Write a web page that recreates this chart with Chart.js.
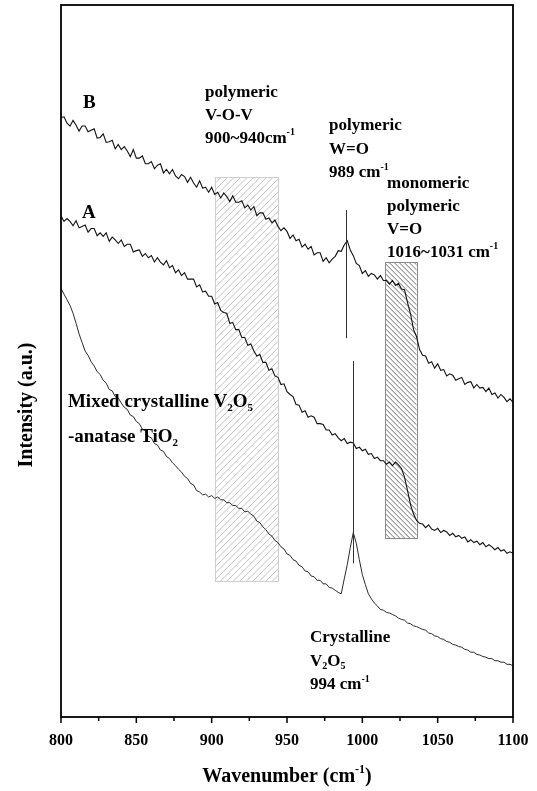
<!DOCTYPE html>
<html>
<head>
<meta charset="utf-8">
<title>Raman spectra</title>
<script src="https://cdn.jsdelivr.net/npm/chart.js@4.4.1/dist/chart.umd.min.js"></script>
<style>
  html, body { margin: 0; padding: 0; background: #fff; }
  canvas { display: block; }
</style>
</head>
<body>
<canvas id="ramanChart" width="537" height="791"></canvas>
<script>
// Raman shift grid (cm-1)
const wavenumbers = [
  800, 802, 804, 806, 808, 810, 812, 814, 816, 818,
  820, 822, 824, 826, 828, 830, 832, 834, 836, 838,
  840, 842, 844, 846, 848, 850, 852, 854, 856, 858,
  860, 862, 864, 866, 868, 870, 872, 874, 876, 878,
  880, 882, 884, 886, 888, 890, 892, 894, 896, 898,
  900, 902, 904, 906, 908, 910, 912, 914, 916, 918,
  920, 922, 924, 926, 928, 930, 932, 934, 936, 938,
  940, 942, 944, 946, 948, 950, 952, 954, 956, 958,
  960, 962, 964, 966, 968, 970, 972, 974, 976, 978,
  980, 982, 984, 986, 988, 990, 992, 994, 996, 998,
  1000, 1002, 1004, 1006, 1008, 1010, 1012, 1014, 1016, 1018,
  1020, 1022, 1024, 1026, 1028, 1030, 1032, 1034, 1036, 1038,
  1040, 1042, 1044, 1046, 1048, 1050, 1052, 1054, 1056, 1058,
  1060, 1062, 1064, 1066, 1068, 1070, 1072, 1074, 1076, 1078,
  1080, 1082, 1084, 1086, 1088, 1090, 1092, 1094, 1096, 1098,
  1100
];

// sample B (top trace)
const spectrumB = [
  84.2, 84.3, 83.4, 83.0, 83.8, 83.1, 82.3, 83.0, 83.0, 82.2,
  82.4, 82.6, 81.3, 81.4, 81.9, 80.7, 80.8, 81.0, 79.8, 80.4,
  79.7, 80.1, 79.5, 78.7, 79.7, 78.5, 78.5, 78.8, 77.7, 77.7,
  78.0, 77.0, 77.5, 77.7, 76.4, 76.9, 76.3, 76.9, 76.0, 75.6,
  76.2, 75.9, 75.1, 75.8, 75.0, 74.4, 75.3, 74.3, 74.4, 73.7,
  74.4, 73.4, 73.7, 72.9, 73.6, 73.1, 72.4, 73.2, 72.3, 72.3,
  72.5, 71.5, 71.9, 71.2, 71.7, 70.4, 70.8, 70.8, 69.9, 70.1,
  69.4, 69.8, 68.9, 68.3, 68.7, 68.2, 67.2, 67.7, 66.9, 67.1,
  66.0, 66.4, 65.7, 66.1, 64.9, 65.2, 65.2, 64.0, 64.5, 63.8,
  64.3, 64.7, 65.5, 65.4, 66.3, 66.9, 65.6, 64.8, 63.7, 63.4,
  62.3, 62.7, 61.9, 62.3, 62.1, 61.5, 62.0, 61.3, 61.3, 60.8,
  61.3, 60.6, 60.9, 60.1, 60.0, 58.2, 56.6, 54.4, 53.4, 51.6,
  50.8, 50.7, 49.7, 49.9, 49.0, 49.6, 48.7, 48.8, 47.9, 48.2,
  48.0, 47.3, 47.5, 47.7, 46.7, 47.0, 47.1, 46.2, 46.7, 46.2,
  46.3, 45.7, 46.2, 45.3, 45.5, 44.8, 45.3, 44.9, 44.3, 44.7,
  44.2
];

// sample A (middle trace)
const spectrumA = [
  70.4, 69.6, 70.0, 69.6, 69.0, 69.7, 68.7, 68.9, 69.1, 68.1,
  68.6, 68.6, 67.6, 68.0, 67.5, 68.0, 66.8, 67.4, 67.0, 66.5,
  67.0, 66.1, 66.4, 66.4, 65.3, 65.5, 65.6, 64.7, 65.1, 64.5,
  64.8, 63.9, 64.5, 63.9, 63.5, 64.1, 63.1, 63.4, 62.4, 62.8,
  62.0, 62.4, 61.5, 61.5, 61.5, 60.4, 60.7, 59.7, 59.8, 59.1,
  59.1, 58.0, 58.2, 57.1, 56.8, 56.7, 55.3, 55.4, 54.4, 54.4,
  53.3, 53.3, 52.2, 52.4, 51.4, 50.7, 50.9, 49.8, 49.8, 48.7,
  48.9, 47.9, 47.7, 46.7, 46.8, 45.7, 45.3, 45.0, 43.9, 43.8,
  42.8, 43.0, 42.1, 42.3, 42.1, 41.2, 41.2, 41.1, 40.3, 40.3,
  39.6, 39.8, 39.2, 38.8, 39.1, 38.4, 38.6, 38.5, 37.7, 37.9,
  37.4, 37.6, 36.9, 37.0, 36.3, 36.5, 36.0, 36.0, 35.5, 35.8,
  35.3, 35.8, 35.4, 34.9, 33.7, 31.8, 29.8, 28.5, 27.6, 27.2,
  27.1, 26.6, 27.0, 26.4, 26.2, 26.5, 25.9, 26.2, 26.0, 25.5,
  25.8, 25.3, 25.5, 25.1, 25.3, 24.6, 24.9, 24.5, 24.7, 24.2,
  24.5, 23.9, 24.2, 23.9, 23.5, 23.8, 23.3, 23.5, 23.0, 23.2,
  23.0
];

// crystalline V2O5 reference (bottom trace)
const spectrumC = [
  60.2, 59.4, 58.6, 57.8, 56.7, 55.3, 53.8, 52.6, 51.4, 50.8,
  49.9, 49.3, 48.5, 48.1, 47.3, 46.9, 46.0, 45.8, 45.0, 44.8,
  44.1, 43.5, 43.2, 42.4, 42.2, 41.5, 41.2, 40.4, 40.2, 39.4,
  39.2, 38.4, 38.2, 37.5, 37.3, 36.6, 36.3, 35.7, 35.3, 34.8,
  34.4, 33.8, 33.5, 32.8, 32.6, 31.8, 31.6, 31.2, 31.3, 30.9,
  31.1, 30.7, 30.9, 30.5, 30.5, 30.1, 30.1, 29.7, 29.7, 29.3,
  29.3, 28.8, 28.9, 28.5, 28.2, 27.5, 27.3, 26.7, 26.3, 25.7,
  25.4, 24.8, 24.5, 23.9, 23.6, 22.9, 22.7, 22.1, 21.9, 21.3,
  21.1, 20.5, 20.4, 19.8, 19.7, 19.2, 19.2, 18.7, 18.7, 18.2,
  18.1, 17.8, 17.5, 17.3, 19.4, 21.4, 23.8, 25.9, 24.4, 22.1,
  20.0, 18.6, 17.3, 16.6, 16.0, 15.6, 15.1, 15.0, 14.7, 14.6,
  14.4, 14.2, 13.9, 13.7, 13.6, 13.2, 13.1, 12.8, 12.7, 12.5,
  12.3, 12.2, 11.8, 11.7, 11.4, 11.3, 11.0, 10.9, 10.6, 10.5,
  10.2, 10.1, 9.9, 9.8, 9.5, 9.4, 9.1, 9.1, 8.8, 8.7,
  8.5, 8.4, 8.2, 8.2, 7.9, 7.9, 7.7, 7.7, 7.4, 7.4,
  7.2
];

// x axis ticks
const majorTicks = [800, 850, 900, 950, 1000, 1050, 1100];
const minorTicks = [825, 875, 925, 975, 1025, 1075];

// shaded bands: [from, to] in cm-1 and [low, high] in a.u.
const bandVOV = [902, 944, 19.1, 75.8];
const bandVO = [1015, 1036, 25.1, 63.9];

// marker lines: [position, low, high]
const markerWO = [989, 53.2, 71.2];
const markerV2O5 = [994, 21.6, 50.0];

const SERIF = "'Liberation Serif', 'Times New Roman', serif";

// text blocks anchored at data coordinates; "_2" = subscript, "^-1" = superscript
const notes = [
  { x: 814.6, y: 85.5, size: 19, gap: 0, lines: ['B'] },
  { x: 813.9, y: 70.1, size: 19, gap: 0, lines: ['A'] },
  { x: 895.6, y: 87.1, size: 17, gap: 23, lines: ['polymeric', 'V-O-V', '900~940cm^-1'] },
  { x: 977.9, y: 82.4, size: 17, gap: 23.5, lines: ['polymeric', 'W=O', '989 cm^-1'] },
  { x: 1016.4, y: 74.3, size: 17, gap: 23, lines: ['monomeric', 'polymeric', 'V=O', '1016~1031 cm^-1'] },
  { x: 804.6, y: 43.5, size: 19, gap: 35, lines: ['Mixed crystalline V_2O_5', '-anatase TiO_2'] },
  { x: 965.3, y: 10.5, size: 17, gap: 23.5, lines: ['Crystalline', 'V_2O_5', '994 cm^-1'] }
];

function parseRich(str) {
  const parts = [];
  const re = /_(\w)|\^(-?\d+)|([^_^]+)/g;
  let m;
  while ((m = re.exec(str)) !== null) {
    if (m[1]) parts.push({ t: m[1], sub: true });
    else if (m[2]) parts.push({ t: m[2], sup: true });
    else parts.push({ t: m[3] });
  }
  return parts;
}

function richWidth(ctx, parts, size) {
  let w = 0;
  for (const p of parts) {
    ctx.font = `bold ${p.sub || p.sup ? Math.round(size * 0.6) : size}px ${SERIF}`;
    w += ctx.measureText(p.t).width;
  }
  return w;
}

function drawRich(ctx, str, x, y, size) {
  const parts = parseRich(str);
  let cx = x;
  ctx.textAlign = 'left';
  ctx.textBaseline = 'alphabetic';
  for (const p of parts) {
    const small = p.sub || p.sup;
    ctx.font = `bold ${small ? Math.round(size * 0.6) : size}px ${SERIF}`;
    const dy = p.sub ? size * 0.22 : p.sup ? -size * 0.45 : 0;
    ctx.fillText(p.t, cx, y + dy);
    cx += ctx.measureText(p.t).width;
  }
}

function hatchBand(ctx, xs, ys, band, gap, dir, lineColor, edgeColor) {
  const x0 = xs.getPixelForValue(band[0]);
  const x1 = xs.getPixelForValue(band[1]);
  const y0 = ys.getPixelForValue(band[3]);
  const y1 = ys.getPixelForValue(band[2]);
  const h = y1 - y0;
  ctx.save();
  ctx.beginPath();
  ctx.rect(x0, y0, x1 - x0, h);
  ctx.clip();
  ctx.strokeStyle = lineColor;
  ctx.lineWidth = 1;
  ctx.beginPath();
  for (let s = x0 - h; s < x1 + h; s += gap) {
    if (dir > 0) { ctx.moveTo(s, y1); ctx.lineTo(s + h, y0); }
    else { ctx.moveTo(s, y0); ctx.lineTo(s + h, y1); }
  }
  ctx.stroke();
  ctx.restore();
  ctx.save();
  ctx.strokeStyle = edgeColor;
  ctx.lineWidth = 1;
  ctx.strokeRect(Math.round(x0) + 0.5, Math.round(y0) + 0.5, Math.round(x1 - x0), Math.round(h));
  ctx.restore();
}

function markerLine(ctx, xs, ys, marker) {
  const x = Math.round(xs.getPixelForValue(marker[0])) + 0.5;
  ctx.save();
  ctx.strokeStyle = '#333';
  ctx.lineWidth = 1;
  ctx.beginPath();
  ctx.moveTo(x, ys.getPixelForValue(marker[2]));
  ctx.lineTo(x, ys.getPixelForValue(marker[1]));
  ctx.stroke();
  ctx.restore();
}

const spectrumDecor = {
  id: 'spectrumDecor',
  beforeDatasetsDraw(chart) {
    const { ctx, scales: { x, y } } = chart;
    hatchBand(ctx, x, y, bandVOV, 6.5, 1, '#c2c2c2', '#cfcfcf');
    hatchBand(ctx, x, y, bandVO, 5, -1, '#6e6e6e', '#8a8a8a');
  },
  afterDatasetsDraw(chart) {
    const { ctx, chartArea: area, scales: { x, y } } = chart;

    markerLine(ctx, x, y, markerWO);
    markerLine(ctx, x, y, markerV2O5);

    // frame
    ctx.save();
    ctx.strokeStyle = '#000';
    ctx.lineWidth = 1.8;
    ctx.strokeRect(area.left, area.top, area.right - area.left, area.bottom - area.top);

    // tick marks under the x axis
    ctx.lineWidth = 1.5;
    ctx.beginPath();
    for (const t of majorTicks) {
      const px = x.getPixelForValue(t);
      ctx.moveTo(px, area.bottom);
      ctx.lineTo(px, area.bottom + 6);
    }
    for (const t of minorTicks) {
      const px = x.getPixelForValue(t);
      ctx.moveTo(px, area.bottom);
      ctx.lineTo(px, area.bottom + 4);
    }
    ctx.stroke();

    // tick labels
    ctx.fillStyle = '#000';
    ctx.font = `bold 16px ${SERIF}`;
    ctx.textAlign = 'center';
    ctx.textBaseline = 'alphabetic';
    for (const t of majorTicks) {
      ctx.fillText(String(t), x.getPixelForValue(t), area.bottom + 28);
    }

    // axis titles
    const xTitle = 'Wavenumber (cm^-1)';
    const xw = richWidth(ctx, parseRich(xTitle), 20);
    drawRich(ctx, xTitle, (area.left + area.right) / 2 - xw / 2, area.bottom + 65, 20);

    ctx.save();
    ctx.translate(32, 405);
    ctx.rotate(-Math.PI / 2);
    ctx.font = `bold 20px ${SERIF}`;
    ctx.textAlign = 'center';
    ctx.textBaseline = 'alphabetic';
    ctx.fillText('Intensity (a.u.)', 0, 0);
    ctx.restore();

    // annotations
    for (const note of notes) {
      const px = x.getPixelForValue(note.x);
      const py = y.getPixelForValue(note.y);
      note.lines.forEach((line, i) => drawRich(ctx, line, px, py + i * note.gap, note.size));
    }
    ctx.restore();
  }
};

const toPoints = (values) => values.map((v, i) => ({ x: wavenumbers[i], y: v }));

new Chart(document.getElementById('ramanChart'), {
  type: 'line',
  data: {
    datasets: [
      { label: 'B', data: toPoints(spectrumB), borderColor: '#111', borderWidth: 1.1 },
      { label: 'A', data: toPoints(spectrumA), borderColor: '#111', borderWidth: 1.1 },
      { label: 'Crystalline V2O5', data: toPoints(spectrumC), borderColor: '#2a2a2a', borderWidth: 1 }
    ]
  },
  options: {
    responsive: false,
    devicePixelRatio: 1,
    animation: false,
    layout: { padding: { left: 61, right: 24, top: 5, bottom: 74 } },
    elements: {
      point: { radius: 0 },
      line: { tension: 0, fill: false }
    },
    plugins: {
      legend: { display: false },
      tooltip: { enabled: false }
    },
    scales: {
      x: { type: 'linear', min: 800, max: 1100, display: false },
      y: { type: 'linear', min: 0, max: 100, display: false }
    }
  },
  plugins: [spectrumDecor]
});
</script>
</body>
</html>
